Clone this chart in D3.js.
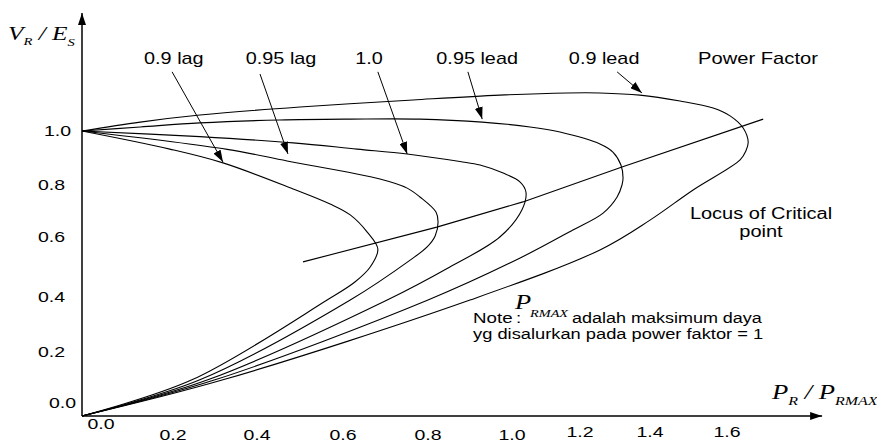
<!DOCTYPE html>
<html><head><meta charset="utf-8">
<script src="https://cdn.jsdelivr.net/npm/d3@7/dist/d3.min.js"></script>
<style>body{margin:0;background:#fff}svg{display:block}</style>
</head><body>
<svg id="chart" width="877" height="444"></svg>
<script>
// ---- data (P_R/P_RMAX , V_R/E_S) ----
const xTicks = [0, 0.2, 0.4, 0.6, 0.8, 1.0, 1.2, 1.4, 1.6];
const xTickLabels = ["0.0","0.2","0.4","0.6","0.8","1.0","1.2","1.4","1.6"];
const yTicks = [0, 0.2, 0.4, 0.6, 0.8, 1.0];
const yTickLabels = ["0.0","0.2","0.4","0.6","0.8","1.0"];
const powerFactors = ["0.9 lag","0.95 lag","1.0","0.95 lead","0.9 lead"];
const pf09lag = [[0,0],[0.245,0.113],[0.563,0.389],[0.628,0.45],[0.664,0.50],[0.682,0.56],[0.657,0.619],[0.617,0.685],[0.570,0.727],[0.484,0.785],[0.319,0.882],[0.193,0.933],[0,1.0]];
const pf095lag = [[0,0],[0.264,0.113],[0.617,0.389],[0.758,0.523],[0.798,0.567],[0.817,0.604],[0.824,0.658],[0.819,0.696],[0.781,0.754],[0.751,0.788],[0.687,0.822],[0.470,0.889],[0.329,0.932],[0,1.0]];
const pf10 = [[0,0],[0.283,0.113],[0.704,0.389],[0.852,0.50],[0.971,0.60],[1.029,0.704],[1.041,0.773],[1.024,0.811],[0.979,0.844],[0.924,0.874],[0.876,0.887],[0.751,0.915],[0.633,0.933],[0.484,0.956],[0.264,0.979],[0,1.0]];
const pf095lead = [[0,0],[0.30,0.113],[0.80,0.389],[1.024,0.53],[1.179,0.627],[1.266,0.692],[1.306,0.754],[1.32,0.80],[1.323,0.826],[1.317,0.874],[1.294,0.922],[1.257,0.952],[1.141,0.996],[1.053,1.015],[0.929,1.033],[0.781,1.044],[0.617,1.044],[0.453,1.041],[0.264,1.030],[0.128,1.015],[0,1.0]];
const pf09lead = [[0,0],[0.319,0.113],[0.90,0.389],[1.257,0.557],[1.40,0.665],[1.512,0.781],[1.634,0.893],[1.649,0.926],[1.655,0.959],[1.642,1.011],[1.608,1.056],[1.564,1.085],[1.478,1.111],[1.371,1.133],[1.257,1.141],[1.162,1.141],[0.971,1.133],[0.765,1.115],[0.50,1.089],[0.264,1.059],[0.128,1.033],[0,1.0]];
const criticalLocus = [[0.507,0.517],[0.821,0.638],[1.032,0.735],[1.32,0.867],[1.694,1.044]];
const labelX = [0.202, 0.456, 0.661, 0.917, 1.269];
const labelY = 1.248;
const arrowFrom = [[0.198,1.219],[0.407,1.211],[0.682,1.219],[0.895,1.219],[1.306,1.219]];
const arrowTo = [[0.319,0.885],[0.472,0.915],[0.751,0.915],[0.929,1.044],[1.377,1.141]];
const xAxisMax = 1.847, yAxisMax = 1.437;

// ---- scales ----
const x = d3.scaleLinear().domain(xTicks).range([82,173,257,343,428,512,580,650,727]);
const y = d3.scaleLinear().domain(yTicks).range([416,352,297,237,185,131]);

const svg = d3.select("#chart");
svg.append("rect").attr("width",877).attr("height",444).attr("fill","#fff");
const defs = svg.append("defs");
defs.append("marker").attr("id","ah").attr("markerUnits","userSpaceOnUse")
  .attr("viewBox","0 0 12 8").attr("refX",12).attr("refY",4)
  .attr("markerWidth",12).attr("markerHeight",8).attr("orient","auto")
  .append("path").attr("d","M0,0L12,4L0,8Z").attr("fill","#000");
defs.append("marker").attr("id","axh").attr("markerUnits","userSpaceOnUse")
  .attr("viewBox","0 0 12 8").attr("refX",12).attr("refY",4)
  .attr("markerWidth",12).attr("markerHeight",8).attr("orient","auto")
  .append("path").attr("d","M0,0L12,4L0,8Z").attr("fill","#000");

const SANS = "'Liberation Sans', Arial, Helvetica, sans-serif";
const SERIF = "'Liberation Serif', 'Times New Roman', serif";
function addText(px, py, str, size, anchor, sx, opts={}) {
  const t = svg.append("text")
    .attr("transform", `translate(${px},${py}) scale(${sx},1)`)
    .attr("font-family", opts.family || SANS)
    .attr("font-size", size)
    .attr("text-anchor", anchor)
    .attr("fill", "#000");
  if (opts.italic) t.attr("font-style","italic");
  if (opts.baseline) t.attr("dominant-baseline", opts.baseline);
  if (str !== null) t.text(str);
  return t;
}

// axes
svg.append("line").attr("x1",x(0)).attr("y1",y(0)).attr("x2",x(0)).attr("y2",y(yAxisMax))
  .attr("stroke","#000").attr("stroke-width",1.5).attr("marker-end","url(#axh)");
svg.append("line").attr("x1",x(0)).attr("y1",y(0)).attr("x2",x(xAxisMax)).attr("y2",y(0))
  .attr("stroke","#000").attr("stroke-width",1.5).attr("marker-end","url(#axh)");

// tick labels
xTicks.forEach((v,i)=>{
  const px = v===0 ? x(v)+19 : x(v);
  const py = v===0 ? y(0)+13 : (v>1.1 ? y(0)+21 : y(0)+24);
  addText(px, py, xTickLabels[i], 15, "middle", 1.3);
});
yTicks.forEach((v,i)=>{
  const py = v===0 ? y(v)-13 : y(v);
  addText(v===0 ? 76 : (v===1 ? 71 : 65), py, yTickLabels[i], 15, "end", 1.3, {baseline:"central"});
});

// curves
const line = d3.line().x(d=>x(d[0])).y(d=>y(d[1])).curve(d3.curveCatmullRom.alpha(0.5));
[pf09lag, pf095lag, pf10, pf095lead, pf09lead].forEach(c=>{
  svg.append("path").attr("d", line(c)).attr("fill","none").attr("stroke","#000").attr("stroke-width",1.1);
});
const lin = d3.line().x(d=>x(d[0])).y(d=>y(d[1]));
svg.append("path").attr("d", lin(criticalLocus)).attr("fill","none").attr("stroke","#000").attr("stroke-width",1.1);

// labels + arrows
powerFactors.forEach((s,i)=>{
  addText(x(labelX[i]), y(labelY), s, 16, "middle", 1.24);
  svg.append("line").attr("x1",x(arrowFrom[i][0])).attr("y1",y(arrowFrom[i][1]))
    .attr("x2",x(arrowTo[i][0])).attr("y2",y(arrowTo[i][1]))
    .attr("stroke","#000").attr("stroke-width",1).attr("marker-end","url(#ah)");
});
addText(758, 64, "Power Factor", 16, "middle", 1.26);
addText(761, 219, "Locus of Critical", 16, "middle", 1.25);
addText(761, 237, "point", 16, "middle", 1.25);

// axis titles
const vt = addText(8, 40, null, 19, "start", 1.33, {family: SERIF, italic: true});
vt.append("tspan").text("V");
vt.append("tspan").attr("font-size",11).attr("dy",5).text("R");
vt.append("tspan").attr("dy",-5).text(" / E");
vt.append("tspan").attr("font-size",11).attr("dy",6).text("S");
const pt = addText(772, 399, null, 20, "start", 1.33, {family: SERIF, italic: true});
pt.append("tspan").text("P");
pt.append("tspan").attr("font-size",12).attr("dy",6).text("R");
pt.append("tspan").attr("dy",-6).text(" / P");
pt.append("tspan").attr("font-size",12).attr("dy",6).text("RMAX");

// note
addText(473, 323, "Note", 15, "start", 1.25);
addText(516, 323, ":", 15, "start", 1.25);
addText(515, 309, "P", 22, "start", 1.2, {family: SERIF, italic: true});
addText(530, 317, "RMAX", 11, "start", 1.3, {family: SERIF, italic: true});
addText(572, 323, "adalah maksimum daya", 15, "start", 1.2);
addText(473, 339, "yg disalurkan pada power faktor = 1", 15, "start", 1.22);
</script>
</body></html>
